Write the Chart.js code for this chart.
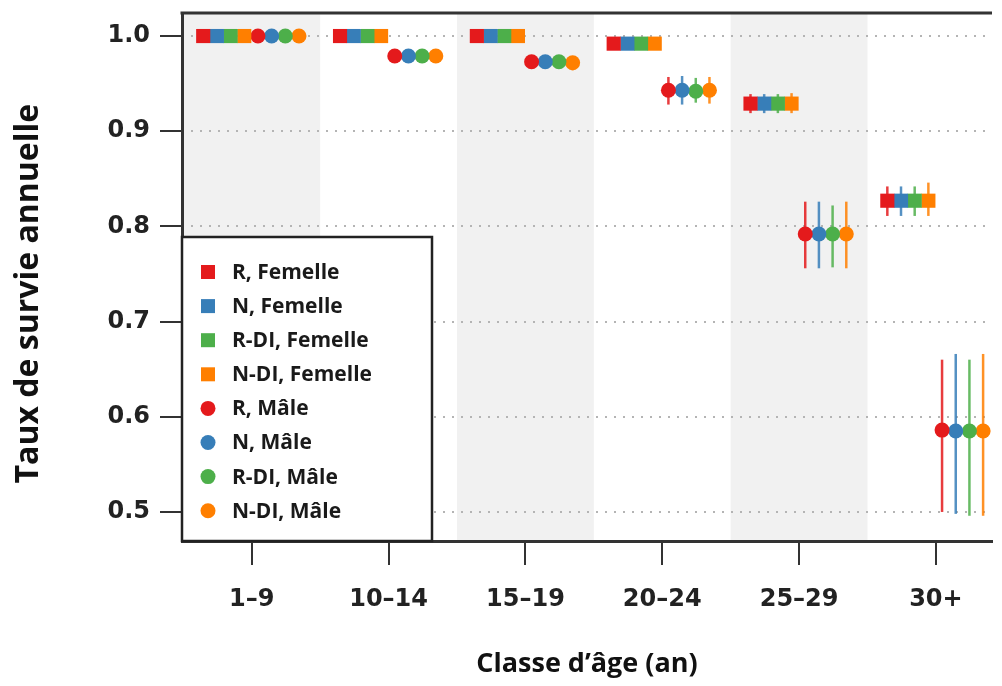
<!DOCTYPE html>
<html>
<head>
<meta charset="utf-8">
<script src="https://cdn.jsdelivr.net/npm/chart.js@4.4.1/dist/chart.umd.min.js"></script>
<style>
  html, body { margin: 0; padding: 0; background: #fff; }
  #wrap { width: 1002px; height: 686px; position: relative; }
</style>
</head>
<body>
<div id="wrap"><canvas id="c"></canvas></div>
<script>
const categories = ['1–9', '10–14', '15–19', '20–24', '25–29', '30+'];
const yTicks = [0.5, 0.6, 0.7, 0.8, 0.9, 1.0];

// femelles
const rF      = [1.0, 1.0, 1.0, 0.992, 0.929, 0.827];
const rF_lo   = [1.0, 1.0, 1.0, 0.988, 0.919, 0.811];
const rF_hi   = [1.0, 1.0, 1.0, 0.995, 0.939, 0.842];
const nF      = [1.0, 1.0, 1.0, 0.992, 0.929, 0.827];
const nF_lo   = [1.0, 1.0, 1.0, 0.988, 0.919, 0.811];
const nF_hi   = [1.0, 1.0, 1.0, 0.995, 0.939, 0.842];
const rdiF    = [1.0, 1.0, 1.0, 0.992, 0.929, 0.827];
const rdiF_lo = [1.0, 1.0, 1.0, 0.988, 0.919, 0.811];
const rdiF_hi = [1.0, 1.0, 1.0, 0.995, 0.939, 0.842];
const ndiF    = [1.0, 1.0, 1.0, 0.992, 0.929, 0.827];
const ndiF_lo = [1.0, 1.0, 1.0, 0.988, 0.919, 0.811];
const ndiF_hi = [1.0, 1.0, 1.0, 0.995, 0.940, 0.846];

// mâles
const rM      = [1.0, 0.979, 0.973, 0.943, 0.792, 0.586];
const rM_lo   = [1.0, 0.976, 0.966, 0.928, 0.756, 0.500];
const rM_hi   = [1.0, 0.982, 0.979, 0.957, 0.826, 0.660];
const nM      = [1.0, 0.979, 0.973, 0.943, 0.792, 0.585];
const nM_lo   = [1.0, 0.976, 0.967, 0.928, 0.756, 0.498];
const nM_hi   = [1.0, 0.982, 0.979, 0.958, 0.826, 0.666];
const rdiM    = [1.0, 0.979, 0.973, 0.942, 0.792, 0.585];
const rdiM_lo = [1.0, 0.976, 0.966, 0.930, 0.757, 0.496];
const rdiM_hi = [1.0, 0.982, 0.979, 0.956, 0.822, 0.660];
const ndiM    = [1.0, 0.979, 0.972, 0.943, 0.792, 0.585];
const ndiM_lo = [1.0, 0.976, 0.964, 0.929, 0.756, 0.496];
const ndiM_hi = [1.0, 0.982, 0.977, 0.957, 0.826, 0.666];

const RED = '#e41a1c', BLUE = '#377eb8', GREEN = '#4daf4a', ORANGE = '#ff7f00';

const series = [
  ['R, Femelle',    RED,    'rect',   rF,   rF_lo,   rF_hi],
  ['N, Femelle',    BLUE,   'rect',   nF,   nF_lo,   nF_hi],
  ['R-DI, Femelle', GREEN,  'rect',   rdiF, rdiF_lo, rdiF_hi],
  ['N-DI, Femelle', ORANGE, 'rect',   ndiF, ndiF_lo, ndiF_hi],
  ['R, Mâle',       RED,    'circle', rM,   rM_lo,   rM_hi],
  ['N, Mâle',       BLUE,   'circle', nM,   nM_lo,   nM_hi],
  ['R-DI, Mâle',    GREEN,  'circle', rdiM, rdiM_lo, rdiM_hi],
  ['N-DI, Mâle',    ORANGE, 'circle', ndiM, ndiM_lo, ndiM_hi],
];
// décalage horizontal de chaque série dans une classe
const dodge = [-0.355, -0.255, -0.155, -0.055, 0.045, 0.145, 0.245, 0.345];

const datasets = series.map(([label, color, shape, vals, lo, hi], k) => ({
  label,
  data: vals.map((v, i) => ({ x: i + dodge[k], y: v })),
  lo, hi,
  backgroundColor: color,
  borderWidth: 0,
  pointStyle: shape,
  pointRadius: shape === 'rect' ? 10 : 7.5,
  pointHoverRadius: shape === 'rect' ? 10 : 7.5,
  showLine: false,
}));

const frame = {
  id: 'frame',
  beforeDraw(chart) {
    const { ctx, chartArea: a, scales: { x, y } } = chart;
    ctx.save();
    ctx.fillStyle = '#fff';
    ctx.fillRect(0, 0, chart.width, chart.height);
    ctx.fillStyle = '#f1f1f1';
    [0, 2, 4].forEach(i => {
      const l = Math.max(a.left, x.getPixelForValue(i - 0.5));
      const r = Math.min(a.right, x.getPixelForValue(i + 0.5));
      ctx.fillRect(l, a.top, r - l, a.bottom - a.top);
    });
    ctx.strokeStyle = '#b4b4b4';
    ctx.lineWidth = 2;
    ctx.setLineDash([2, 7]);
    yTicks.forEach(v => {
      const py = Math.round(y.getPixelForValue(v));
      ctx.beginPath();
      ctx.moveTo(a.left, py);
      ctx.lineTo(a.right, py);
      ctx.stroke();
    });
    ctx.restore();
  },
  beforeDatasetsDraw(chart) {
    const { ctx, scales: { y } } = chart;
    ctx.save();
    ctx.lineWidth = 2.5;
    ctx.globalAlpha = 0.85;
    chart.data.datasets.forEach((ds, k) => {
      const meta = chart.getDatasetMeta(k);
      ctx.strokeStyle = ds.backgroundColor;
      meta.data.forEach((pt, i) => {
        ctx.beginPath();
        ctx.moveTo(pt.x, y.getPixelForValue(ds.lo[i]));
        ctx.lineTo(pt.x, y.getPixelForValue(ds.hi[i]));
        ctx.stroke();
      });
    });
    ctx.restore();
  },
  afterDatasetsDraw(chart) {
    const { ctx, chartArea: a } = chart;
    ctx.save();
    // légende
    const box = { l: a.left, t: 237, r: 432, b: a.bottom };
    ctx.fillStyle = '#fff';
    ctx.fillRect(box.l, box.t, box.r - box.l, box.b - box.t);
    ctx.strokeStyle = '#222';
    ctx.lineWidth = 2.5;
    ctx.strokeRect(box.l, box.t, box.r - box.l, box.b - box.t);
    ctx.font = 'bold 21px "Open Sans"';
    ctx.textBaseline = 'middle';
    chart.data.datasets.forEach((ds, k) => {
      const cy = 272 + k * 34.1;
      ctx.fillStyle = ds.backgroundColor;
      if (ds.pointStyle === 'rect') ctx.fillRect(201, cy - 7, 14, 14);
      else { ctx.beginPath(); ctx.arc(208, cy, 7.5, 0, Math.PI * 2); ctx.fill(); }
      ctx.fillStyle = '#1a1a1a';
      ctx.fillText(ds.label, 232, cy + 1);
    });
    // bord supérieur
    ctx.strokeStyle = '#333';
    ctx.lineWidth = 3;
    ctx.beginPath();
    ctx.moveTo(a.left - 1.5, a.top);
    ctx.lineTo(a.right, a.top);
    ctx.stroke();
    ctx.restore();
  }
};

const tickFont = { family: '"DejaVu Sans"', size: 24, weight: 'bold' };

new Chart(document.getElementById('c'), {
  type: 'scatter',
  data: { datasets },
  options: {
    responsive: true,
    maintainAspectRatio: false,
    devicePixelRatio: 1,
    animation: false,
    layout: { padding: { top: 13, right: 0, left: 0, bottom: 0 } },
    plugins: { legend: { display: false }, tooltip: { enabled: false } },
    scales: {
      x: {
        type: 'linear',
        min: -0.51,
        max: 5.41,
        afterBuildTicks: s => { s.ticks = categories.map((_, i) => ({ value: i })); },
        afterFit: s => { s.height = 145; s.paddingLeft = 0; s.paddingRight = 0; },
        ticks: {
          callback: v => categories[v],
          font: tickFont,
          color: '#222',
          padding: 20,
          autoSkip: false,
          maxRotation: 0,
        },
        grid: { drawOnChartArea: false, tickLength: 24, color: '#333', lineWidth: 2 },
        border: { display: true, width: 3, color: '#333' },
        title: {
          display: true,
          text: 'Classe d’âge (an)',
          font: { family: '"Open Sans"', size: 27, weight: 'bold' },
          color: '#111',
          padding: { top: 0, bottom: 5 },
        },
      },
      y: {
        type: 'linear',
        min: 0.4695,
        max: 1.0242,
        afterBuildTicks: s => { s.ticks = yTicks.map(v => ({ value: v })); },
        afterFit: s => { s.width = 182; s.paddingTop = 0; s.paddingBottom = 0; },
        ticks: {
          callback: v => v.toFixed(1),
          font: tickFont,
          color: '#222',
          padding: 10,
        },
        grid: { drawOnChartArea: false, tickLength: 22, color: '#333', lineWidth: 2 },
        border: { display: true, width: 3, color: '#333' },
        title: {
          display: true,
          text: 'Taux de survie annuelle    ',
          font: { family: '"Open Sans"', size: 32, weight: 'bold' },
          color: '#111',
          padding: { top: 10, bottom: 0 },
        },
      },
    },
  },
  plugins: [frame],
});
</script>
</body>
</html>
